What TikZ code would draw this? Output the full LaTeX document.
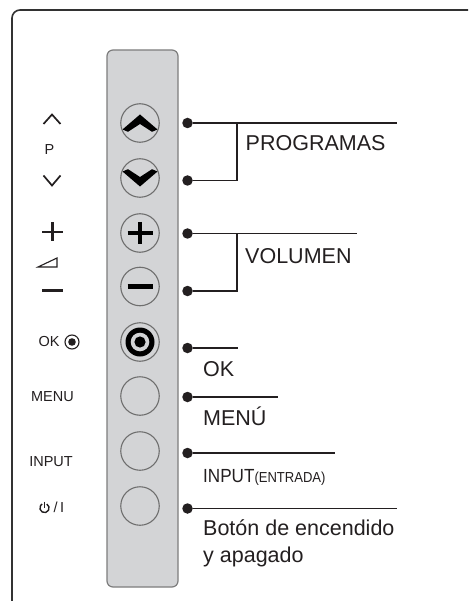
\documentclass[tikz,border=0pt]{standalone}
\usepackage{fontspec}
\setmainfont{Liberation Sans}
\definecolor{panelgray}{RGB}{211,212,214}
\definecolor{panelborder}{RGB}{125,125,125}
\definecolor{btngray}{RGB}{110,110,110}
\definecolor{lineblack}{RGB}{35,31,32}
\definecolor{framegray}{RGB}{50,50,50}
\begin{document}
\begin{tikzpicture}[x=1pt,y=-1pt,
  lbl/.style={inner sep=0pt, text=lineblack, font=\fontsize{14.5}{17}\selectfont},
  rlbl/.style={inner sep=0pt, anchor=base west, text=lineblack, font=\fontsize{21.5}{27}\selectfont},
  btn/.style={circle, draw=btngray, line width=1.1pt, fill=panelgray, minimum size=38.5pt, inner sep=0pt},
  dotn/.style={circle, fill=lineblack, minimum size=10.5pt, inner sep=0pt},
  conn/.style={draw=lineblack, line width=1.6pt},
  thinsym/.style={draw=lineblack, line width=1.7pt},
  ico/.style={fill=black, draw=none}]
\useasboundingbox (0,0) rectangle (468,601);
\fill[white] (0,0) rectangle (468,601);
% outer frame
\draw[framegray, line width=1.6pt] (12,601) -- (12,18) arc[start angle=180, end angle=270, radius=8] -- (468,10);
% panel
\draw[draw=panelborder, fill=panelgray, line width=1.2pt, rounded corners=6pt] (107,50) rectangle (178,587);
% buttons
\node[btn] (bup) at (140,123) {};
\node[btn] (bdn) at (140,178) {};
\node[btn] (bplus) at (140,233) {};
\node[btn] (bminus) at (140,286.5) {};
\node[btn] (bok) at (140,342) {};
\node[btn] (bmenu) at (140,396) {};
\node[btn] (binput) at (140,451) {};
\node[btn] (bpower) at (140,506) {};
% button icons
\fill[ico] (bup.center) ++(-17.5,6.5) -- ++(17.5,-15) -- ++(17.5,15) -- ++(-5.5,2.3) -- ++(-12,-7.8) -- ++(-12,7.8) -- cycle;
\fill[ico] (bdn.center) ++(-17.5,-6.5) -- ++(17.5,15) -- ++(17.5,-15) -- ++(-5.5,-2.3) -- ++(-12,7.8) -- ++(-12,-7.8) -- cycle;
\draw[line width=4.8pt, black] (bplus.center) +(-12.5,0) -- +(12.5,0) (bplus.center) +(0,-11) -- +(0,11);
\draw[line width=5.2pt, black] (bminus.center) +(-12.5,0) -- +(12.5,0);
\fill[black] (bok.center) circle[radius=14.5];
\fill[panelgray] (bok.center) circle[radius=9.3];
\fill[black] (bok.center) circle[radius=5.6];
% dots
\node[dotn] (dup) at (187.5,123) {};
\node[dotn] (ddn) at (187.5,180.5) {};
\node[dotn] (dplus) at (187.5,233.5) {};
\node[dotn] (dminus) at (187.5,291) {};
\node[dotn] (dok) at (187.5,348) {};
\node[dotn] (dmenu) at (187.5,397) {};
\node[dotn] (dinput) at (187.5,453) {};
\node[dotn] (dpower) at (187.5,508.5) {};
% connector ends
\coordinate (eup) at (397,123);
\coordinate (jprog) at (237,123);
\coordinate (edn) at (237,180.5);
\coordinate (eplus) at (357,233.5);
\coordinate (jvol) at (237,233.5);
\coordinate (eminus) at (237,291);
\coordinate (eok) at (238,348);
\coordinate (emenu) at (278,397);
\coordinate (einput) at (335,453);
\coordinate (epower) at (397,508.5);
\draw[conn] (dup) -- (eup);
\draw[conn] (ddn) -- (edn) -- (jprog);
\draw[conn] (dplus) -- (eplus);
\draw[conn] (dminus) -- (eminus) -- (jvol);
\draw[conn] (dok) -- (eok);
\draw[conn] (dmenu) -- (emenu);
\draw[conn] (dinput) -- (einput);
\draw[conn] (dpower) -- (epower);
% right labels
\node[rlbl] (tprog) at (245.5,151) {PROGRAMAS};
\node[rlbl] (tvol) at (245,263) {VOLUMEN};
\node[rlbl] (tok) at (203,376) {OK};
\node[rlbl] (tmenu) at (203,425) {MENÚ};
\node[rlbl] (tinput) at (203,482) {{\fontsize{19}{21}\selectfont\scalebox{0.9}[1]{INPUT}}{\fontsize{14.5}{16}\selectfont\scalebox{0.9}[1]{(ENTRADA)}}};
\node[rlbl] (tpow1) at (203,535) {Botón de encendido};
\node[rlbl] (tpow2) at (203,562) {y apagado};
% left labels
\draw[thinsym] (43.5,124) -- (52,114.5) -- (60.5,124);
\node[lbl] (lp) at (49.5,150) {P};
\draw[thinsym] (43.5,175.5) -- (52,185.5) -- (60.5,175.5);
\draw[draw=lineblack, line width=2.3pt] (42,232) -- (63,232) (52.5,222.5) -- (52.5,241.5);
\draw[draw=lineblack, line width=1.1pt, line join=miter] (38,267) -- (57,258) -- (57,267) -- cycle;
\draw[draw=lineblack, line width=3pt] (42,290) -- (63,290);
\node[lbl, anchor=west] (lok) at (38.5,342) {OK};
\draw[draw=lineblack, line width=1.1pt] (72,342) circle[radius=7];
\fill[lineblack] (72,342) circle[radius=3.8];
\node[lbl] (lmenu) at (52.5,397) {MENU};
\node[lbl] (linput) at (51,461.5) {INPUT};
\draw[draw=lineblack, line width=1.4pt] (44.5,508) ++(-60:4.6) arc[start angle=-60, end angle=240, radius=4.6];
\draw[draw=lineblack, line width=1.4pt] (44.5,501.5) -- (44.5,507.5);
\node[lbl, anchor=west] (lpow) at (53.5,507) {/\,I};
\end{tikzpicture}
\end{document}
